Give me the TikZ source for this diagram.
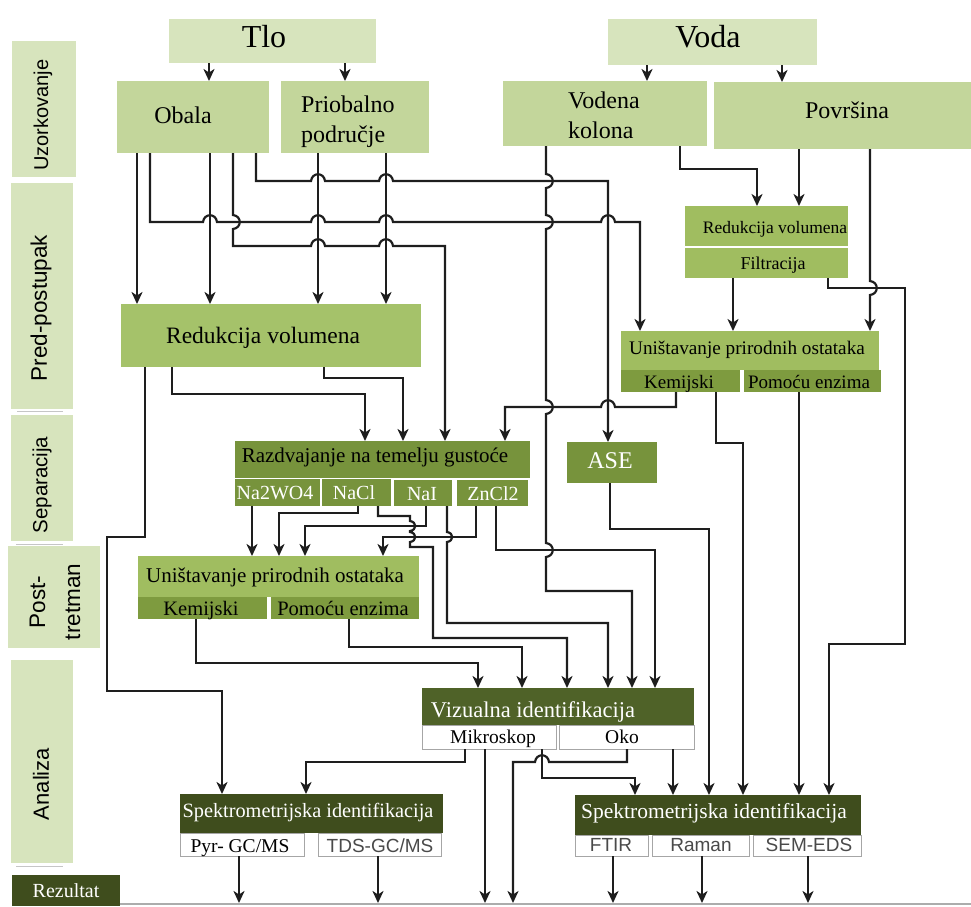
\documentclass[tikz,border=0pt]{standalone}
\usepackage{fontspec}
\setmainfont{Liberation Serif}
\setsansfont{Liberation Sans}
\usetikzlibrary{arrows.meta}
\definecolor{cLight}{HTML}{D7E4BD}
\definecolor{cMid}{HTML}{C3D69B}
\definecolor{cRed}{HTML}{A5C26A}
\definecolor{cUni}{HTML}{A0BD60}
\definecolor{cCell}{HTML}{7E9B3F}
\definecolor{cRaz}{HTML}{77933C}
\definecolor{cViz}{HTML}{4F6228}
\definecolor{cSpk}{HTML}{3F4D1D}
\definecolor{cLine}{HTML}{1E1E1E}
\definecolor{cGray}{HTML}{4A4A4A}
\newcommand\fs[1]{\fontsize{#1}{#1}\selectfont}
% hops
\newcommand\hhR[2]{-- (#1-7,#2) .. controls (#1-6,#2-9) and (#1+6,#2-9) .. (#1+7,#2)}
\newcommand\hhL[2]{-- (#1+7,#2) .. controls (#1+6,#2-9) and (#1-6,#2-9) .. (#1-7,#2)}
\newcommand\vhD[2]{-- (#1,#2-7) .. controls (#1+9,#2-6) and (#1+9,#2+6) .. (#1,#2+7)}
\newcommand\vhDs[2]{-- (#1,#2-5) .. controls (#1+7,#2-4) and (#1+7,#2+4) .. (#1,#2+5)}
\tikzset{
  box/.style={anchor=north west, inner sep=0pt, outer sep=0pt},
  txt/.style={anchor=base, inner sep=0pt},
  lab/.style={rotate=90, inner sep=0pt, font=\sffamily},
  wcell/.style={box, fill=white, draw=gray!70, line width=0.9pt},
  conn/.style={draw=cLine, line width=2.2pt, -{Stealth[length=12pt,width=11pt,inset=3.5pt]}},
}
\begin{document}
\begin{tikzpicture}[x=1pt,y=-1pt]
\useasboundingbox (0,0) rectangle (971,906);
% ---------- left stage labels
\node[box, fill=cLight, minimum width=64pt, minimum height=136pt] (l1) at (12,41) {};
\node[box, fill=cLight, minimum width=62pt, minimum height=226pt] (l2) at (11,183) {};
\node[box, fill=cLight, minimum width=62pt, minimum height=126pt] (l3) at (11,415) {};
\node[box, fill=cLight, minimum width=92pt, minimum height=102pt] (l4) at (8,546) {};
\node[box, fill=cLight, minimum width=62pt, minimum height=203pt] (l5) at (11,660) {};
\node[lab] (l1t) at (43,115) {\fs{20}Uzorkovanje};
\node[lab] (l2t) at (41,308) {\fs{22.5}Pred-postupak};
\node[lab] (l3t) at (42,485) {\fs{20.5}Separacija};
\node[lab, align=center, font=\sffamily\fontsize{22.5}{35}\selectfont] (l4t) at (55,602) {Post-\\tretman};
\node[lab] (l5t) at (41,784) {\fs{22}Analiza};
\draw[gray!45, line width=1pt] (17,411) -- (63,411);
\draw[gray!45, line width=1pt] (16,544) -- (63,544);
\draw[gray!45, line width=1pt] (16,866) -- (63,866);
\node[box, fill=cSpk, minimum width=108pt, minimum height=31pt] (rez) at (12,875) {};
\node[txt, text=white] (rezt) at (66,897) {\fs{20}Rezultat};
\node[box, fill=gray!65, minimum width=851pt, minimum height=2pt] (base) at (120,903) {};
% ---------- top
\node[box, fill=cLight, minimum width=207pt, minimum height=44pt] (tlo) at (169,19) {};
\node[txt] (tlot) at (264,47) {\fs{32}Tlo};
\node[box, fill=cLight, minimum width=209pt, minimum height=46pt] (voda) at (608,19) {};
\node[txt] (vodat) at (708,47) {\fs{32}Voda};
\node[box, fill=cMid, minimum width=152pt, minimum height=72pt] (obala) at (117,81) {};
\node[txt] (obalat) at (183,123) {\fs{24}Obala};
\node[box, fill=cMid, minimum width=148pt, minimum height=72pt] (prio) at (281,81) {};
\node[txt, anchor=base west] (priot1) at (301,112) {\fs{24}Priobalno};
\node[txt, anchor=base west] (priot2) at (301,142) {\fs{24}područje};
\node[box, fill=cMid, minimum width=204pt, minimum height=65pt] (vkol) at (503,81) {};
\node[txt, anchor=base west] (vkolt1) at (568,108) {\fs{24}Vodena};
\node[txt, anchor=base west] (vkolt2) at (568,138) {\fs{24}kolona};
\node[box, fill=cMid, minimum width=257pt, minimum height=67pt] (povr) at (714,82) {};
\node[txt] (povrt) at (847,118) {\fs{24}Površina};
% ---------- pre-treatment
\node[box, fill=cRed, minimum width=300pt, minimum height=63pt] (redv) at (121,304) {};
\node[txt] (redvt) at (263,343) {\fs{23.5}Redukcija volumena};
\node[box, fill=cUni, minimum width=163pt, minimum height=72pt] (rvf) at (685,206) {};
\draw[white, line width=1.2pt] (rvf.west |- 0,247) -- (rvf.east |- 0,247);
\node[txt] (rvft1) at (775,233) {\fs{17.5}Redukcija volumena};
\node[txt] (rvft2) at (773,269) {\fs{18}Filtracija};
\node[box, fill=cUni, minimum width=258pt, minimum height=39pt] (uniR) at (621,331) {};
\node[txt] (uniRt) at (747,354) {\fs{19.2}Uništavanje prirodnih ostataka};
\node[box, fill=cCell, minimum width=119pt, minimum height=22pt] (kemR) at (621,370) {};
\node[box, fill=cCell, minimum width=137pt, minimum height=22pt] (enzR) at (744,370) {};
\node[txt] (kemRt) at (679,388) {\fs{19}Kemijski};
\node[txt] (enzRt) at (809,388) {\fs{19}Pomoću enzima};
% ---------- separation
\node[box, fill=cRaz, minimum width=295pt, minimum height=37pt] (razd) at (235,441) {};
\node[txt] (razdt) at (375,462) {\fs{21}Razdvajanje na temelju gustoće};
\node[box, fill=cRaz, minimum width=85pt, minimum height=27pt] (na2) at (235,479) {};
\node[box, fill=cRaz, minimum width=69pt, minimum height=27pt] (nacl) at (322,479) {};
\node[box, fill=cRaz, minimum width=58pt, minimum height=26pt] (nai) at (394,480) {};
\node[box, fill=cRaz, minimum width=71pt, minimum height=26pt] (zncl) at (457,480) {};
\draw[white, line width=1.2pt] (235,478.5) -- (530,478.5);
\node[txt, text=white] (na2t) at (275,499) {\fs{20}Na2WO4};
\node[txt, text=white] (naclt) at (354,499) {\fs{20}NaCl};
\node[txt, text=white] (nait) at (422,500) {\fs{20}NaI};
\node[txt, text=white] (znclt) at (493,500) {\fs{20}ZnCl2};
\node[box, fill=cRaz, minimum width=90pt, minimum height=41pt] (ase) at (567,442) {};
\node[txt, text=white] (aset) at (610,468) {\fs{24}ASE};
% ---------- post treatment
\node[box, fill=cUni, minimum width=281pt, minimum height=41pt] (uniL) at (138,556) {};
\node[txt] (uniLt) at (275,582) {\fs{21}Uništavanje prirodnih ostataka};
\node[box, fill=cCell, minimum width=129pt, minimum height=22pt] (kemL) at (138,597) {};
\node[box, fill=cCell, minimum width=148pt, minimum height=22pt] (enzL) at (271,597) {};
\node[txt] (kemLt) at (201,615) {\fs{20.5}Kemijski};
\node[txt] (enzLt) at (343,615) {\fs{20.5}Pomoću enzima};
% ---------- analysis
\node[box, fill=cViz, minimum width=272pt, minimum height=37pt] (viz) at (422,688) {};
\node[txt, text=white] (vizt) at (533,717) {\fs{22.5}Vizualna identifikacija};
\node[wcell, minimum width=134pt, minimum height=24pt] (mik) at (422,725) {};
\node[wcell, minimum width=135pt, minimum height=24pt] (oko) at (559,725) {};
\node[txt] (mikt) at (493,743) {\fs{19.5}Mikroskop};
\node[txt] (okot) at (622,743) {\fs{19.5}Oko};
\node[box, fill=cSpk, minimum width=263pt, minimum height=39pt] (spL) at (180,794) {};
\node[txt, text=white] (spLt) at (308,817) {\fs{20.3}Spektrometrijska identifikacija};
\node[wcell, minimum width=124pt, minimum height=23pt] (pyr) at (180,833) {};
\node[wcell, minimum width=123pt, minimum height=23pt] (tds) at (318,833) {};
\node[txt] (pyrt) at (240,852) {\fs{19.5}Pyr- GC/MS};
\node[txt, text=cGray, font=\sffamily] (tdst) at (380,852) {\fs{19}TDS-GC/MS};
\node[box, fill=cSpk, minimum width=286pt, minimum height=40pt] (spR) at (575,795) {};
\node[txt, text=white] (spRt) at (714,818) {\fs{21.5}Spektrometrijska identifikacija};
\node[wcell, minimum width=73pt, minimum height=21pt] (ftir) at (575,835) {};
\node[wcell, minimum width=97pt, minimum height=21pt] (raman) at (652,835) {};
\node[wcell, minimum width=108pt, minimum height=21pt] (sem) at (753,835) {};
\node[txt, text=cGray, font=\sffamily] (ftirt) at (611,851) {\fs{19}FTIR};
\node[txt, text=cGray, font=\sffamily] (ramant) at (701,851) {\fs{19}Raman};
\node[txt, text=cGray, font=\sffamily] (semt) at (809,851) {\fs{19}SEM-EDS};
% ---------- connectors
\draw[conn] (209,0 |- tlo.south) -- (209,0 |- obala.north);
\draw[conn] (345,0 |- tlo.south) -- (345,0 |- prio.north);
\draw[conn] (647,0 |- voda.south) -- (647,0 |- vkol.north);
\draw[conn] (782,0 |- voda.south) -- (782,0 |- povr.north);
% from Obala
\draw[conn] (137,0 |- obala.south) -- (137,0 |- redv.north);
\draw[conn] (150,0 |- obala.south) -- (150,222) \hhR{210}{222} \hhR{318}{222} \hhR{386}{222} \hhR{608}{222} -- (640,222) -- (640,0 |- uniR.north);
\draw[conn] (210,0 |- obala.south) -- (210,0 |- redv.north);
\draw[conn] (233,0 |- obala.south) \vhD{233}{222} -- (233,246) \hhR{318}{246} \hhR{386}{246} -- (445,246) -- (445,0 |- razd.north);
\draw[conn] (256,0 |- obala.south) -- (256,181) \hhR{318}{181} \hhR{386}{181} -- (608,181) -- (608,0 |- ase.north);
% from Priobalno
\draw[conn] (318,0 |- prio.south) -- (318,0 |- redv.north);
\draw[conn] (386,0 |- prio.south) -- (386,0 |- redv.north);
% from Vodena kolona
\draw[conn] (546,0 |- vkol.south) \vhD{546}{181} \vhD{546}{222} \vhD{546}{407} \vhD{546}{550} -- (546,591) -- (632,591) -- (632,0 |- viz.north);
\draw[conn] (680,0 |- vkol.south) -- (680,169) -- (757,169) -- (757,0 |- rvf.north);
% from Povrsina
\draw[conn] (799,0 |- povr.south) -- (799,0 |- rvf.north);
\draw[conn] (870,0 |- povr.south) \vhD{870}{288} -- (870,0 |- uniR.north);
% from Redukcija/Filtracija
\draw[conn] (733,0 |- rvf.south) -- (733,0 |- uniR.north);
\draw[conn] (828,0 |- rvf.south) -- (828,288) -- (905,288) -- (905,644) -- (829,644) -- (829,0 |- spR.north);
% from Unistavanje (right)
\draw[conn] (676,0 |- kemR.south) -- (676,407) \hhL{608}{407} -- (505,407) -- (505,0 |- razd.north);
\draw[conn] (716,0 |- kemR.south) -- (716,443) -- (743,443) -- (743,0 |- spR.north);
\draw[conn] (799,0 |- enzR.south) -- (799,0 |- spR.north);
% from Redukcija volumena
\draw[conn] (145,0 |- redv.south) -- (145,537) -- (107,537) -- (107,691) -- (222,691) -- (222,0 |- spL.north);
\draw[conn] (172,0 |- redv.south) -- (172,394) -- (365,394) -- (365,0 |- razd.north);
\draw[conn] (324,0 |- redv.south) -- (324,378) -- (403,378) -- (403,0 |- razd.north);
% from density separation
\draw[conn] (252,0 |- na2.south) -- (252,0 |- uniL.north);
\draw[conn] (358,0 |- nacl.south) -- (358,513) -- (279,513) -- (279,0 |- uniL.north);
\draw[conn] (426,0 |- nai.south) -- (426,526) -- (305,526) -- (305,0 |- uniL.north);
\draw[conn] (378,0 |- nacl.south) -- (378,516) -- (410,516) \vhDs{410}{526} \vhDs{410}{537} -- (410,547) -- (433,547) -- (433,638) -- (567,638) -- (567,0 |- viz.north);
\draw[conn] (447,0 |- nai.south) \vhDs{447}{537} -- (447,623) -- (608,623) -- (608,0 |- viz.north);
\draw[conn] (476,0 |- zncl.south) -- (476,537) -- (383,537) -- (383,0 |- uniL.north);
\draw[conn] (496,0 |- zncl.south) -- (496,550) -- (655,550) -- (655,0 |- viz.north);
% from ASE
\draw[conn] (610,0 |- ase.south) -- (610,529) -- (709,529) -- (709,0 |- spR.north);
% from Unistavanje (left)
\draw[conn] (196,0 |- kemL.south) -- (196,663) -- (478,663) -- (478,0 |- viz.north);
\draw[conn] (349,0 |- enzL.south) -- (349,647) -- (522,647) -- (522,0 |- viz.north);
% from Vizualna identifikacija
\draw[conn] (465,0 |- mik.south) -- (465,762) -- (306,762) -- (306,0 |- spL.north);
\draw[conn] (485,0 |- mik.south) -- (485,0 |- base.north);
\draw[conn] (542,0 |- mik.south) -- (542,778) -- (635,778) -- (635,0 |- spR.north);
\draw[conn] (627,0 |- oko.south) -- (627,762) \hhL{542}{762} -- (513,762) -- (513,0 |- base.north);
\draw[conn] (673,0 |- oko.south) -- (673,0 |- spR.north);
% from spectrometry
\draw[conn] (239,0 |- pyr.south) -- (239,0 |- base.north);
\draw[conn] (378,0 |- tds.south) -- (378,0 |- base.north);
\draw[conn] (613,0 |- ftir.south) -- (613,0 |- base.north);
\draw[conn] (702,0 |- raman.south) -- (702,0 |- base.north);
\draw[conn] (808,0 |- sem.south) -- (808,0 |- base.north);
\end{tikzpicture}
\end{document}
